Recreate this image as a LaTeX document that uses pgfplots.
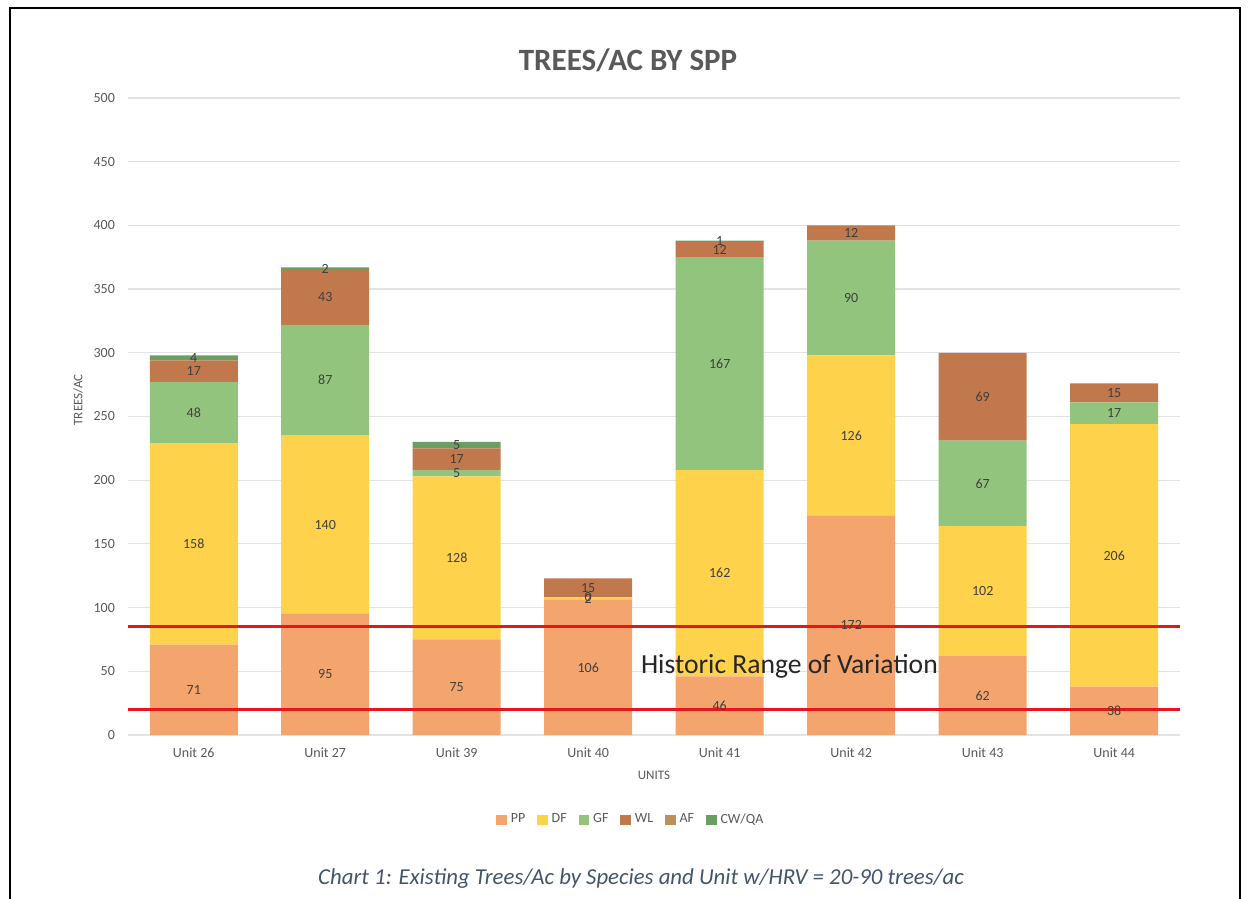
\documentclass[border=0pt]{standalone}
\usepackage{pgfplots}
\pgfplotsset{compat=1.18}
\usepackage{fontspec}
\setmainfont{Carlito}
\definecolor{cPP}{HTML}{F3A56D}
\definecolor{cDF}{HTML}{FFD24B}
\definecolor{cGF}{HTML}{93C47D}
\definecolor{cWL}{HTML}{C0784C}
\definecolor{cAF}{HTML}{B9925B}
\definecolor{cCW}{HTML}{6A9F62}
\definecolor{gridgray}{HTML}{E3E3E3}
\definecolor{labelgray}{HTML}{595959}
\definecolor{valgray}{HTML}{404040}
\definecolor{capblue}{HTML}{44546A}
\definecolor{hrvred}{HTML}{E8161B}
\pgfplotsset{sq legend/.style={legend image code/.code={\fill[##1] (0pt,-2.6pt) rectangle (5.2pt,2.6pt);}}}
\pgfplotstableread{
x PP DF GF WL AF CW
0 71 158 48 17 0 4
1 95 140 87 43 0 2
2 75 128 5 17 0 5
3 106 2 0 15 0 0
4 46 162 167 12 0 1
5 172 126 90 12 0 0
6 62 102 67 69 0 0
7 38 206 17 15 0 0
}\trees
\pgfplotstableread{
x y l
0 35.5 71
0 150 158
0 253 48
0 285.5 17
0 296 4
1 47.5 95
1 165 140
1 278.5 87
1 343.5 43
1 366 2
2 37.5 75
2 139 128
2 205.5 5
2 216.5 17
2 227.5 5
3 53 106
3 107 2
3 108 0
3 115.5 15
4 23 46
4 127 162
4 291.5 167
4 381 12
4 387.5 1
5 86 172
5 235 126
5 343 90
5 394 12
6 31 62
6 113 102
6 197.5 67
6 265.5 69
7 19 38
7 141 206
7 252.5 17
7 268.5 15
}\labels
\begin{document}
\begin{tikzpicture}
\useasboundingbox (0,0) rectangle (624.5pt,449.5pt);
\draw[line width=1pt] (5pt,0) -- (5pt,445.5pt) -- (620pt,445.5pt) -- (620pt,0);
\node[font=\fontsize{15.5}{18}\selectfont\bfseries, text=labelgray] at (314pt,419.5pt) {TREES/AC BY SPP};
\node[font=\fontsize{11.4}{13}\selectfont\itshape, text=capblue] at (320.5pt,10pt) {Chart 1: Existing Trees/Ac by Species and Unit w/HRV = 20-90 trees/ac};
\begin{axis}[
  at={(64pt,82pt)}, anchor=south west, scale only axis,
  width=526pt, height=318.5pt,
  ybar stacked, bar width=44pt,
  xmin=-0.5, xmax=7.5, ymin=0, ymax=500,
  xtick={0,...,7},
  xticklabels={Unit 26,Unit 27,Unit 39,Unit 40,Unit 41,Unit 42,Unit 43,Unit 44},
  ytick={0,50,...,500},
  ymajorgrids, grid style={draw=gridgray, line width=0.6pt},
  axis x line*=bottom, axis y line*=left,
  x axis line style={draw=gridgray, line width=0.8pt, -},
  y axis line style={draw=none},
  major tick length=0pt,
  /pgf/number format/assume math mode=true,
  tick label style={font=\fontsize{7}{8}\selectfont, text=labelgray},
  xticklabel style={yshift=-3pt},
  yticklabel style={xshift=-3pt},
  xlabel={UNITS}, ylabel={TREES/AC},
  label style={font=\fontsize{6.5}{8}\selectfont, text=labelgray},
  xlabel style={at={(axis description cs:0.5,-0.063)}, anchor=center},
  ylabel style={at={(axis description cs:-0.0475,0.526)}, anchor=center},
  legend style={at={(0.479,-0.133)}, anchor=center, draw=none, fill=none,
    legend columns=-1, font=\fontsize{7}{8}\selectfont, text=labelgray,
    /tikz/every even column/.append style={column sep=4pt}},
]
\addplot[fill=cPP, draw=none, sq legend] table[x=x,y=PP] {\trees};
\addlegendentry{PP}
\addplot[fill=cDF, draw=none, sq legend] table[x=x,y=DF] {\trees};
\addlegendentry{DF}
\addplot[fill=cGF, draw=none, sq legend] table[x=x,y=GF] {\trees};
\addlegendentry{GF}
\addplot[fill=cWL, draw=none, sq legend] table[x=x,y=WL] {\trees};
\addlegendentry{WL}
\addplot[fill=cAF, draw=none, sq legend] table[x=x,y=AF] {\trees};
\addlegendentry{AF}
\addplot[fill=cCW, draw=none, sq legend] table[x=x,y=CW] {\trees};
\addlegendentry{CW/QA}
\end{axis}
\begin{axis}[
  at={(64pt,82pt)}, anchor=south west, scale only axis,
  width=526pt, height=318.5pt,
  xmin=-0.5, xmax=7.5, ymin=0, ymax=500,
  axis lines=none, clip=false,
]
\addplot[draw=none, mark=none, nodes near coords, point meta=explicit symbolic,
  nodes near coords style={font=\fontsize{7}{8}\selectfont, text=valgray, anchor=center}]
  table[x=x, y=y, meta=l] {\labels};
\addplot[hrvred, line width=1.6pt] coordinates {(-0.5,85) (7.5,85)};
\addplot[hrvred, line width=1.6pt] coordinates {(-0.5,20) (7.5,20)};
\node[font=\fontsize{13.8}{16}\selectfont, text=black!85] at (axis cs:4.53,54) {Historic Range of Variation};
\end{axis}
\end{tikzpicture}
\end{document}
